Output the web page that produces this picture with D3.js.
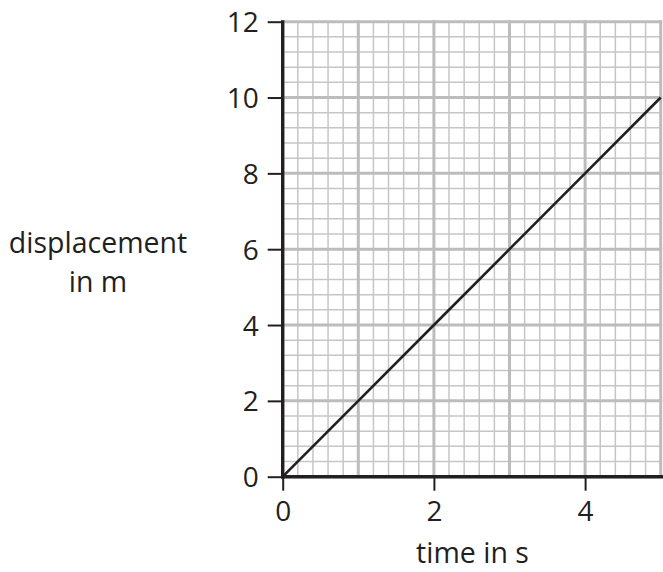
<!DOCTYPE html>
<html>
<head>
<meta charset="utf-8">
<script src="https://cdn.jsdelivr.net/npm/d3@7"></script>
<style>
  html, body { margin: 0; padding: 0; background: #fff; }
  svg { display: block; }
  text { font-family: "Open Sans", sans-serif; fill: #231f20; }
</style>
</head>
<body>
<script>
// ---- data ----
const timeValues = [0, 1, 2, 3, 4, 5];
const displacementValues = [0, 2, 4, 6, 8, 10];
const xTickValues = [0, 2, 4];
const yTickValues = [0, 2, 4, 6, 8, 10, 12];
const xTitle = "time in s";
const yTitleLines = ["displacement", "in m"];

const W = 663, H = 572;
const svg = d3.select("body").append("svg").attr("width", W).attr("height", H);

const x = d3.scaleLinear().domain([0, 5]).range([282.7, 660.7]);
const y = d3.scaleLinear().domain([0, 12]).range([476.7, 21.7]);

const g = svg.append("g");

// minor grid
const minorX = d3.range(0, 5.0001, 0.2);
const minorY = d3.range(0, 12.0001, 0.4);
g.selectAll(".mvx").data(minorX).enter().append("line")
  .attr("x1", d => x(d)).attr("x2", d => x(d))
  .attr("y1", y(0)).attr("y2", y(12))
  .attr("stroke", "#c6c6c8").attr("stroke-width", 1.5);
g.selectAll(".mhy").data(minorY).enter().append("line")
  .attr("x1", x(0)).attr("x2", x(5))
  .attr("y1", d => y(d)).attr("y2", d => y(d))
  .attr("stroke", "#c6c6c8").attr("stroke-width", 1.5);

// major grid
const majorX = d3.range(0, 5.0001, 1);
const majorY = d3.range(0, 12.0001, 2);
g.selectAll(".Mvx").data(majorX).enter().append("line")
  .attr("x1", d => x(d)).attr("x2", d => x(d))
  .attr("y1", y(0)).attr("y2", y(12) - 1.5)
  .attr("stroke", "#bcbcbf").attr("stroke-width", 3);
g.selectAll(".Mhy").data(majorY).enter().append("line")
  .attr("x1", x(0)).attr("x2", x(5) + 1.5)
  .attr("y1", d => y(d)).attr("y2", d => y(d))
  .attr("stroke", "#bcbcbf").attr("stroke-width", 3);

// data line
const line = d3.line().x((d, i) => x(timeValues[i])).y(d => y(d));
g.append("path").datum(displacementValues)
  .attr("d", line).attr("fill", "none")
  .attr("stroke", "#231f20").attr("stroke-width", 2.6);

// axes
const xAxis = d3.axisBottom(x).tickValues(xTickValues).tickSize(14).tickPadding(10).tickFormat(d3.format("d"));
const yAxis = d3.axisLeft(y).tickValues(yTickValues).tickSize(15).tickPadding(9).tickFormat(d3.format("d"));

const gx = svg.append("g").attr("transform", `translate(0,${y(0)})`).call(xAxis);
const gy = svg.append("g").attr("transform", `translate(${x(0)},0)`).call(yAxis);

[gx, gy].forEach(a => {
  a.select(".domain").remove();
  a.selectAll(".tick line").attr("stroke", "#231f20").attr("stroke-width", 2);
  a.selectAll(".tick text").style("font-family", "'Open Sans', sans-serif")
    .style("font-size", "28px").attr("fill", "#231f20");
});
gy.selectAll(".tick text").attr("dy", "0.36em");
gx.selectAll(".tick text").attr("dy", "0.72em");

// thick axis lines
svg.append("line").attr("x1", x(0)).attr("x2", x(0))
  .attr("y1", y(12) - 1.5).attr("y2", y(0) + 1.7)
  .attr("stroke", "#231f20").attr("stroke-width", 3.4);
svg.append("line").attr("x1", x(0) - 1.7).attr("x2", W)
  .attr("y1", y(0)).attr("y2", y(0))
  .attr("stroke", "#231f20").attr("stroke-width", 3.4);

// titles
svg.append("text").attr("x", 472.5).attr("y", 563)
  .attr("text-anchor", "middle").style("font-size", "28.5px").text(xTitle);
svg.append("text").attr("text-anchor", "middle").style("font-size", "28.5px")
  .selectAll("tspan").data(yTitleLines).enter().append("tspan")
  .attr("x", 98).attr("y", (d, i) => 253 + i * 39).text(d => d);
</script>
</body>
</html>
